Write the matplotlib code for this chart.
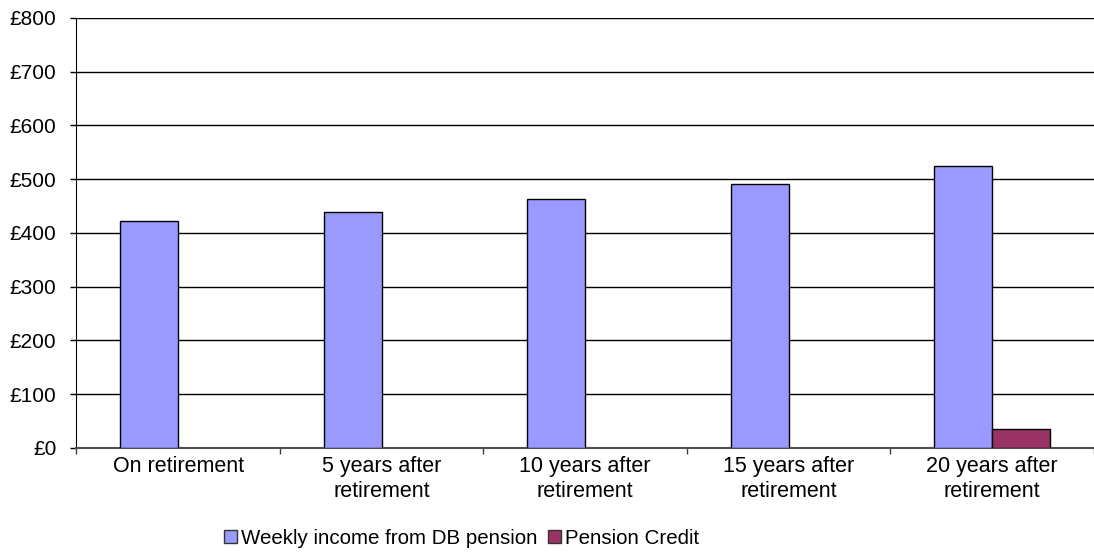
import numpy as np
import matplotlib.pyplot as plt
from matplotlib.patches import Patch

plt.rcParams['font.family'] = ['Liberation Sans', 'DejaVu Sans']

categories = ["On retirement", "5 years after\nretirement", "10 years after\nretirement",
              "15 years after\nretirement", "20 years after\nretirement"]
db_pension = [422, 439, 463, 491, 524]
pension_credit = [0, 0, 0, 0, 35]
y_ticks = [0, 100, 200, 300, 400, 500, 600, 700, 800]

blue = "#9999FF"
plum = "#993366"

fig = plt.figure(figsize=(10.94, 5.59), dpi=100)
ax = fig.add_axes([0.0699, 0.1986, 0.9301, 0.7692])

x = np.arange(len(categories))
w = 0.285
ax.bar(x - w / 2, db_pension, w, color=blue, edgecolor="black", linewidth=1, zorder=3)
credit = ax.bar(x + w / 2, pension_credit, w, color=plum, edgecolor="black", linewidth=1, zorder=3)
# zero bars would leave a black edge on the axis line
for b, v in zip(credit, pension_credit):
    if v == 0:
        b.set_visible(False)

ax.set_xlim(-0.5, len(categories) - 0.5)
ax.set_ylim(0, 800)
ax.set_yticks(y_ticks)
ax.set_yticklabels(["£%d" % v for v in y_ticks], fontsize=15)
ax.yaxis.grid(True, color="black", linewidth=1)
ax.set_axisbelow(True)

ax.set_xticks(np.arange(len(categories) + 1) - 0.5, minor=False)
ax.set_xticklabels([])
ax.set_xticks(x, minor=True)
ax.set_xticklabels(categories, minor=True, fontsize=15.5, linespacing=1.2)
ax.tick_params(axis="x", which="minor", length=0, pad=6)
ax.tick_params(axis="x", which="major", length=4, width=1, color="#404040")
ax.tick_params(axis="y", length=4.5, width=1, pad=10)

for s in ["top", "right"]:
    ax.spines[s].set_visible(False)
ax.spines["left"].set_color("black")
ax.spines["bottom"].set_color("#505050")
ax.spines["bottom"].set_linewidth(1.5)

handles = [Patch(facecolor=blue, edgecolor="#333333", linewidth=1),
           Patch(facecolor=plum, edgecolor="#333333", linewidth=1)]
labels = ["Weekly income from DB pension", "Pension Credit"]
fig.legend(handles, labels, loc="center", bbox_to_anchor=(0.422, 0.037), ncol=2,
           frameon=False, fontsize=14.8, handlelength=0.65, handleheight=0.65,
           handletextpad=0.2, columnspacing=0.5)

fig.savefig("out.png", dpi=100)
